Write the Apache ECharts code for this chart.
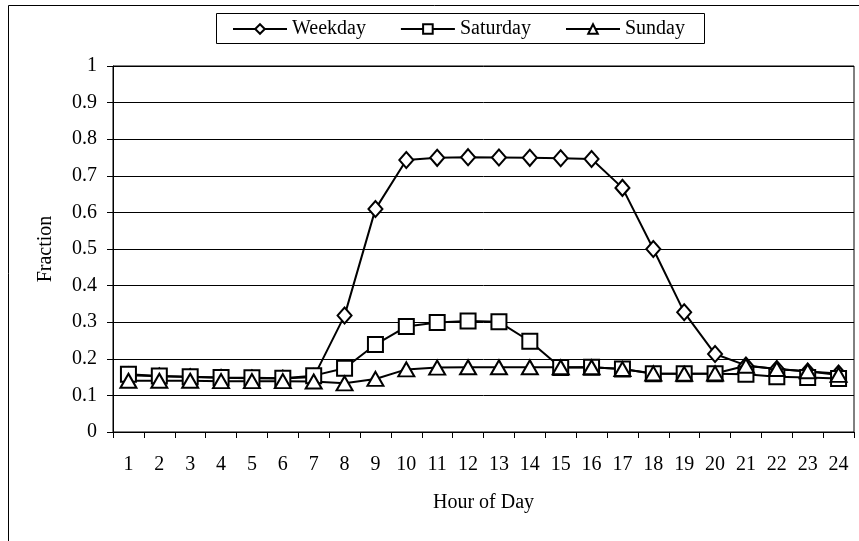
<!DOCTYPE html>
<html><head><meta charset="utf-8">
<script src="https://cdn.jsdelivr.net/npm/echarts@6/dist/echarts.min.js"></script>
<style>html,body{margin:0;padding:0;background:#fff}#c{width:859px;height:541px}</style>
</head><body><div id="c"></div>
<script>
const hours = ['1','2','3','4','5','6','7','8','9','10','11','12','13','14','15','16','17','18','19','20','21','22','23','24'];
const weekday  = [0.155,0.152,0.150,0.148,0.147,0.146,0.150,0.318,0.609,0.743,0.749,0.751,0.750,0.749,0.748,0.746,0.667,0.500,0.327,0.213,0.182,0.172,0.165,0.160];
const saturday = [0.158,0.153,0.151,0.149,0.148,0.147,0.154,0.174,0.239,0.288,0.299,0.303,0.301,0.248,0.176,0.177,0.172,0.159,0.159,0.159,0.158,0.151,0.149,0.146];
const sunday   = [0.140,0.140,0.140,0.139,0.139,0.139,0.138,0.133,0.145,0.171,0.176,0.177,0.177,0.177,0.177,0.177,0.172,0.160,0.159,0.160,0.181,0.172,0.166,0.156];
const yTicks = [0,0.1,0.2,0.3,0.4,0.5,0.6,0.7,0.8,0.9,1];

const FONT = 'Liberation Serif';
const FS = 20;
const chart = echarts.init(document.getElementById('c'), null, {renderer:'canvas'});
function ser(name, data, symbol, size){
  return {name, type:'line', data, symbol, symbolSize:size, showSymbol:true,
    lineStyle:{color:'#000', width:2},
    itemStyle:{color:'#fff', borderColor:'#000', borderWidth:2},
    emphasis:{disabled:true}, animation:false};
}
chart.setOption({
  animation:false,
  backgroundColor:'#fff',
  graphic:[
    {type:'rect', shape:{x:8.5,y:5.5,width:900,height:600}, style:{fill:'none', stroke:'#000', lineWidth:1}, z:-10},
    {type:'rect', shape:{x:216.5,y:13.5,width:488,height:30}, style:{fill:'#fff', stroke:'#000', lineWidth:1}, z:-5}
  ],
  legend:{
    top:19, left:232,
    padding:0, itemGap:34, itemWidth:54, itemHeight:12,
    textStyle:{fontFamily:FONT, fontSize:FS, color:'#000'},
    data:['Weekday','Saturday','Sunday']
  },
  grid:{left:113, right:5, top:66, bottom:109, show:true, borderColor:'#000', borderWidth:1, containLabel:false},
  xAxis:{
    type:'category', data:hours, boundaryGap:true,
    name:'Hour of Day', nameLocation:'middle', nameGap:61,
    nameTextStyle:{fontFamily:FONT, fontSize:FS, color:'#000'},
    axisLine:{lineStyle:{color:'#000', width:1}},
    axisTick:{show:true, inside:false, length:6, alignWithLabel:false, lineStyle:{color:'#000'}},
    axisLabel:{fontFamily:FONT, fontSize:FS, color:'#000', margin:23, interval:0},
    splitLine:{show:false}
  },
  yAxis:{
    type:'value', min:0, max:1, interval:0.1,
    name:'Fraction', nameLocation:'middle', nameGap:57, nameRotate:90,
    nameTextStyle:{fontFamily:FONT, fontSize:FS, color:'#000'},
    axisLine:{show:true, lineStyle:{color:'#000', width:1}},
    axisTick:{show:true, inside:false, length:6, lineStyle:{color:'#000'}},
    axisLabel:{fontFamily:FONT, fontSize:FS, color:'#000', margin:16,
      formatter:v=>{const t=yTicks.find(x=>Math.abs(x-v)<1e-9); return String(t!==undefined?t:+v.toFixed(1));}},
    splitLine:{show:true, lineStyle:{color:'#000', width:1}}
  },
  series:[
    ser('Weekday', weekday, 'diamond', [14,16]),
    ser('Saturday', saturday, 'rect', [15,15]),
    ser('Sunday', sunday, 'triangle', [16,14])
  ]
});
</script></body></html>
